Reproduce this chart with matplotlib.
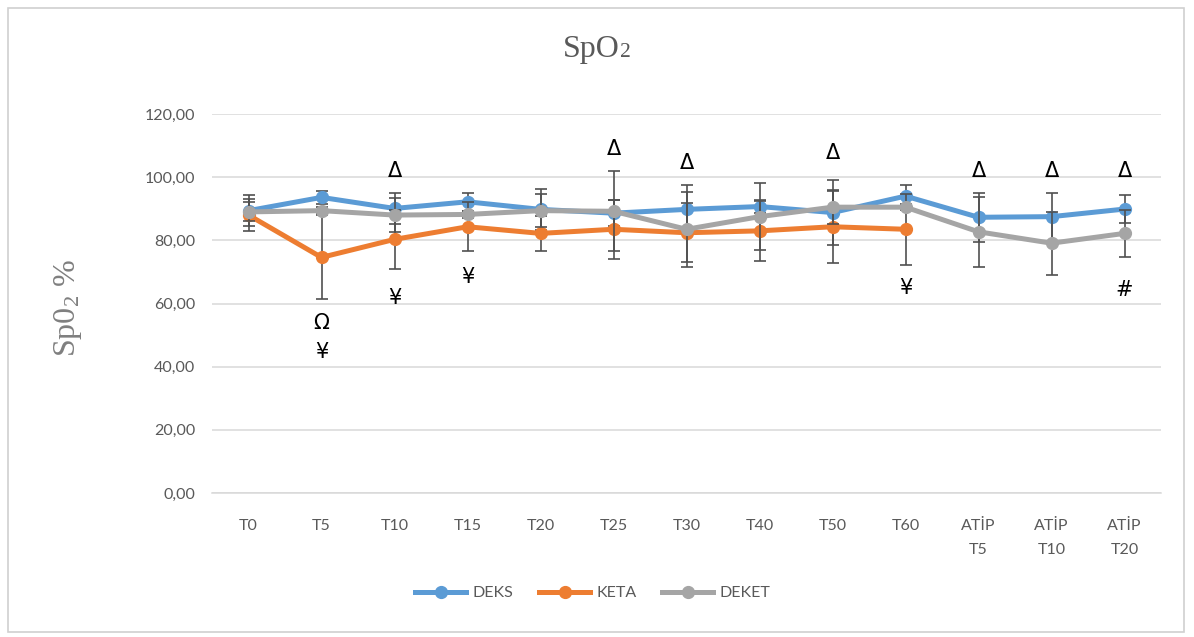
import numpy as np
import matplotlib
matplotlib.use("Agg")
import matplotlib.pyplot as plt
from matplotlib.lines import Line2D
from matplotlib.patches import Rectangle

# Time points
categories = ["T0", "T5", "T10", "T15", "T20", "T25", "T30", "T40", "T50", "T60",
              "ATİP\nT5", "ATİP\nT10", "ATİP\nT20"]

# Mean SpO2 (%) per group
deks_mean = [89.4, 93.6, 90.1, 92.2, 89.8, 88.6, 89.8, 90.7, 88.8, 94.0, 87.3, 87.5, 89.9]
keta_mean = [88.0, 74.6, 80.3, 84.3, 82.2, 83.5, 82.4, 83.0, 84.3, 83.5, np.nan, np.nan, np.nan]
deket_mean = [89.0, 89.4, 88.0, 88.2, 89.4, 89.2, 83.5, 87.5, 90.5, 90.5, 82.7, 79.1, 82.2]

# Standard deviations
deks_sd = [5.0, 2.0, 4.8, 2.9, 6.5, 4.2, 7.7, 2.0, 10.3, 3.5, 7.8, 7.6, 4.5]
keta_sd = [5.0, 13.3, 9.4, 7.7, 5.5, 9.3, 9.3, 9.5, 11.6, 11.3, np.nan, np.nan, np.nan]
deket_sd = [3.0, 1.0, 5.5, 1.0, 5.3, 12.6, 11.9, 10.6, 5.2, 1.0, 11.0, 10.0, 7.4]

# Significance marks: (category index, y position, symbol)
marks_above = [(2, 101.8, "Δ"), (5, 108.8, "Δ"), (6, 104.6, "Δ"), (8, 107.8, "Δ"),
               (10, 101.8, "Δ"), (11, 101.8, "Δ"), (12, 101.8, "Δ")]
marks_below = [(1, 53.8, "Ω"), (1, 44.7, "¥"), (2, 61.7, "¥"), (3, 68.5, "¥"),
               (9, 65.0, "¥"), (12, 64.3, "#")]

series = [("DEKS", deks_mean, deks_sd, "#5B9BD5"),
          ("KETA", keta_mean, keta_sd, "#ED7D31"),
          ("DEKET", deket_mean, deket_sd, "#A5A5A5")]

plt.rcParams["mathtext.fontset"] = "custom"
plt.rcParams["mathtext.rm"] = "Liberation Serif"
plt.rcParams["mathtext.it"] = "Liberation Serif:italic"

tick_font = "Lato"
grey_text = "#595959"

fig = plt.figure(figsize=(11.94, 6.37), dpi=100)
fig.patch.set_facecolor("white")

# Chart border
fig.add_artist(Rectangle((8 / 1194, 1 - 632 / 637), 1176 / 1194, 624 / 637,
                         transform=fig.transFigure, fill=False,
                         edgecolor="#d0d0d0", linewidth=1.2))

ax = fig.add_axes([212 / 1194, 1 - 493 / 637, 949 / 1194, 379 / 637])
x = np.arange(len(categories))

# Each series is drawn with its own error bars, later series on top
for k, (name, mean, sd, color) in enumerate(series):
    mean = np.array(mean, dtype=float)
    sd = np.array(sd, dtype=float)
    base = 3 + 2 * k
    ax.errorbar(x, mean, yerr=sd, fmt="none", ecolor="#505050", elinewidth=1.2,
                capsize=4.5, capthick=1.2, zorder=base)
    ax.plot(x, mean, color=color, lw=3.6, marker="o", markersize=8.5,
            solid_joinstyle="round", zorder=base + 1, label=name)

for i, y, s in marks_above + marks_below:
    ax.text(i, y, s, ha="center", va="center", fontsize=15, color="black",
            family="DejaVu Sans", zorder=20)

ax.set_xlim(-0.5, len(categories) - 0.5)
ax.set_ylim(0, 120)
ax.set_yticks(np.arange(0, 121, 20))
ax.set_yticklabels([f"{v:.2f}".replace(".", ",") for v in np.arange(0, 121, 20)],
                   family=tick_font, fontsize=11.5, color=grey_text)
ax.set_xticks(x)
ax.set_xticklabels(categories, family=tick_font, fontsize=11.5, color=grey_text,
                   linespacing=1.9, va="top")
ax.tick_params(axis="both", length=0)
ax.tick_params(axis="x", pad=19)
ax.tick_params(axis="y", pad=12)
ax.grid(axis="y", color="#d9d9d9", lw=1.1)
ax.set_axisbelow(True)
for side in ["top", "right", "left"]:
    ax.spines[side].set_visible(False)
ax.spines["bottom"].set_color("#d9d9d9")
ax.spines["bottom"].set_linewidth(1.1)

# Title: "SpO" followed by a smaller "2" on the same baseline
title_main = fig.text(0.5, 1 - 57 / 637, "SpO", ha="left", va="baseline",
                      family="Liberation Serif", fontsize=23, color=grey_text)
fig.canvas.draw()
r = fig.canvas.get_renderer()
bb_main = title_main.get_window_extent(r)
title_sub = fig.text(0.5, 1 - 57 / 637, "2", ha="left", va="baseline",
                     family="Liberation Serif", fontsize=15.5, color=grey_text)
bb_sub = title_sub.get_window_extent(r)
total_w = bb_main.width + bb_sub.width
x0 = 597 - total_w / 2
title_main.set_x(x0 / 1194)
title_sub.set_x((x0 + bb_main.width) / 1194)

fig.text(68 / 1194, 1 - 308 / 637, r"Sp0$_2$ %", ha="center", va="center",
         rotation=90, family="Liberation Serif", fontsize=23, color="#7f7f7f")

handles = [Line2D([0], [0], color=c, lw=3.6, marker="o", markersize=8.5)
           for _, _, _, c in series]
fig.legend(handles, [n for n, _, _, _ in series], loc="center",
           bbox_to_anchor=(593 / 1194, 1 - 593 / 637), ncol=3, frameon=False,
           prop={"family": tick_font, "size": 11.5}, labelcolor=grey_text,
           handlelength=3.2, columnspacing=1.6, handletextpad=0.4)

fig.savefig("out.png", dpi=100, facecolor="white")
